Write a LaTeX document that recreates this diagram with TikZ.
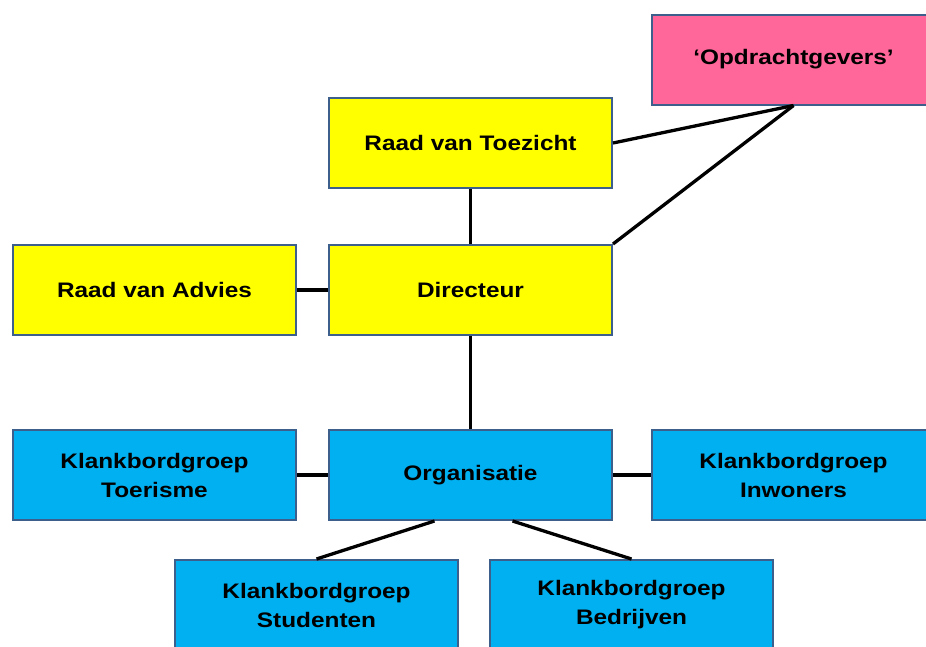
\documentclass[tikz,border=0pt]{standalone}
\usepackage{fontspec}
\setmainfont[FakeStretch=1.16]{Liberation Sans}

\definecolor{boxline}{HTML}{3D5F8C}
\definecolor{geel}{HTML}{FFFF00}
\definecolor{blauw}{HTML}{00B0F0}
\definecolor{roze}{HTML}{FF6699}

\tikzset{
	orgbox/.style={draw=boxline, line width=2pt, minimum width=283pt, minimum height=90pt,
		inner sep=0pt, align=center, font=\fontsize{21}{29}\selectfont\bfseries},
	link/.style={line width=3.3pt, black}
}

\begin{document}
\begin{tikzpicture}[x=1pt, y=-1pt]
	\useasboundingbox (0,0) rectangle (926,646);
	\fill[white] (0,0) rectangle (926,646);

	\node[orgbox, fill=roze]  (opdr)   at (793.5, 59.5) {`Opdrachtgevers'};
	\node[orgbox, fill=geel]  (toez)   at (470.5, 143) {Raad van Toezicht};
	\node[orgbox, fill=geel]  (advies) at (154.5, 290) {Raad van Advies};
	\node[orgbox, fill=geel]  (dir)    at (470.5, 290) {Directeur};
	\node[orgbox, fill=blauw] (toer)   at (154.5, 475) {Klankbordgroep\\Toerisme};
	\node[orgbox, fill=blauw] (org)    at (470.5, 475) {Organisatie};
	\node[orgbox, fill=blauw] (inw)    at (793.5, 475) {Klankbordgroep\\Inwoners};
	\node[orgbox, fill=blauw] (stud)   at (316.5, 605) {Klankbordgroep\\Studenten};
	\node[orgbox, fill=blauw] (bedr)   at (631.5, 605) {Klankbordgroep\\Bedrijven};

	% verbindingen
	\draw[link] (toez.east) -- (opdr.south);
	\draw[link] (dir.north east) -- (opdr.south);
	\draw[link] (toez.south) -- (dir.north);
	\draw[link] (advies.east) -- (dir.west);
	\draw[link] (dir.south) -- (org.north);
	\draw[link] (toer.east) -- (org.west);
	\draw[link] (org.east) -- (inw.west);
	\draw[link] ([xshift=-36pt]org.south) -- (stud.north);
	\draw[link] ([xshift=42pt]org.south) -- (bedr.north);
\end{tikzpicture}
\end{document}
